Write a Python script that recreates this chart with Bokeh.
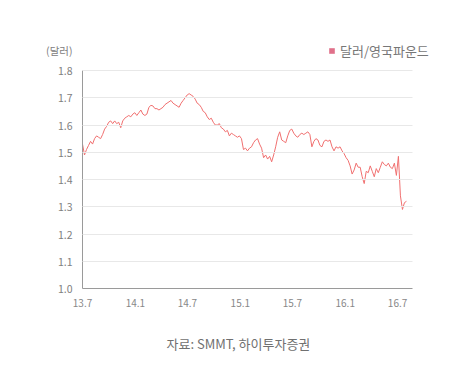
import pandas as pd
from bokeh.plotting import figure
from bokeh.models import (FixedTicker, CustomJSTickFormatter, Range1d,
                          Legend, LegendItem, Title, LinearAxis)
from bokeh.embed import file_html
from bokeh.resources import INLINE

# weekly GBP/USD (달러/영국파운드), starting 2013-07-01
start_date = "2013-07-01"
usd_per_gbp = [
    1.53, 1.49, 1.51, 1.525, 1.54, 1.53, 1.55, 1.56, 1.555, 1.55,
    1.565, 1.585, 1.595, 1.61, 1.615, 1.605, 1.615, 1.605, 1.61, 1.59,
    1.615, 1.625, 1.63, 1.635, 1.63, 1.64, 1.645, 1.635, 1.645, 1.655,
    1.64, 1.635, 1.64, 1.665, 1.672, 1.67, 1.66, 1.66, 1.655, 1.66,
    1.665, 1.675, 1.68, 1.685, 1.69, 1.68, 1.675, 1.67, 1.665, 1.68,
    1.69, 1.70, 1.71, 1.715, 1.71, 1.705, 1.695, 1.68, 1.675, 1.665,
    1.65, 1.645, 1.63, 1.62, 1.625, 1.61, 1.60, 1.60, 1.605, 1.59,
    1.585, 1.575, 1.58, 1.56, 1.57, 1.565, 1.56, 1.555, 1.56, 1.55,
    1.51, 1.515, 1.505, 1.515, 1.52, 1.535, 1.545, 1.55, 1.53, 1.515,
    1.48, 1.49, 1.475, 1.485, 1.465, 1.49, 1.52, 1.555, 1.575, 1.545,
    1.54, 1.535, 1.56, 1.58, 1.585, 1.57, 1.56, 1.555, 1.565, 1.57,
    1.565, 1.57, 1.575, 1.565, 1.52, 1.54, 1.55, 1.545, 1.525, 1.52,
    1.54, 1.545, 1.54, 1.545, 1.52, 1.505, 1.52, 1.515, 1.52, 1.505,
    1.495, 1.48, 1.47, 1.45, 1.42, 1.435, 1.46, 1.445, 1.445, 1.41,
    1.385, 1.43, 1.425, 1.45, 1.43, 1.41, 1.44, 1.425, 1.445, 1.465,
    1.455, 1.45, 1.46, 1.445, 1.44, 1.46, 1.415, 1.485, 1.34, 1.29,
    1.315, 1.32,
]
tick_dates = ["2013-07-01", "2014-01-01", "2014-07-01", "2015-01-01",
              "2015-07-01", "2016-01-01", "2016-07-01"]
y_ticks = [1.0, 1.1, 1.2, 1.3, 1.4, 1.5, 1.6, 1.7, 1.8]
series_name = "달러/영국파운드"
unit_label = "(달러)"
source_text = "자료: SMMT, 하이투자증권"

dates = pd.date_range(start_date, periods=len(usd_per_gbp), freq="7D")


def ms(d):
    return pd.Timestamp(d).value / 1e6


FONT = "Noto Sans CJK KR"

# layout (pixels): axes box 82..412 x 70..288, frame extended to hold the key
W, H = 468, 375
AX_L, AX_R, AX_T, AX_B = 82, 412, 70, 288
FR_R, FR_T = 440, 36
x0, x1 = ms("2013-07-01"), ms("2016-08-22")
y0, y1 = 1.0, 1.8
px_x = (x1 - x0) / (AX_R - AX_L)
px_y = (y1 - y0) / (AX_B - AX_T)
unit_y = y1 + 20 * px_y          # unit label sits 20px above the 1.8 line

p = figure(width=W, height=H, x_axis_type="datetime", y_axis_location=None,
           output_backend="svg", toolbar_location=None,
           min_border_left=AX_L, min_border_right=W - FR_R,
           min_border_top=FR_T, min_border_bottom=H - AX_B)
p.x_range = Range1d(x0, x0 + (FR_R - AX_L) * px_x)
p.y_range = Range1d(y0, y1 + (AX_T - FR_T) * px_y)
p.outline_line_color = None
p.background_fill_color = "white"
p.border_fill_color = "white"
p.xgrid.visible = False
p.ygrid.visible = False

line_r = p.line(dates, usd_per_gbp, line_color="#f07070", line_width=1)
# zero-area patch used only as the legend swatch
swatch = p.quad(left=dates[:1], right=dates[:1],
                top=usd_per_gbp[:1], bottom=usd_per_gbp[:1],
                fill_color="#e0708a", line_color=None)

# x axis
xa = p.xaxis[0]
xa.ticker = FixedTicker(ticks=[ms(d) for d in tick_dates])
xa.formatter = CustomJSTickFormatter(
    code="const d = new Date(tick); return (d.getUTCFullYear() % 100) + '.' + (d.getUTCMonth() + 1);")
xa.bounds = (x0, x1)
xa.axis_line_color = "#9a9a9a"
xa.major_tick_line_color = None
xa.minor_tick_line_color = None
xa.major_tick_in = 0
xa.major_tick_out = 0
xa.major_label_text_color = "#888888"
xa.major_label_text_font = FONT
xa.major_label_text_font_size = "10px"
xa.major_label_standoff = 10

# inner y axis: the axis line, with long inward ticks acting as grid lines
ya = LinearAxis(ticker=FixedTicker(ticks=y_ticks[1:]), bounds=(y0, y1),
                formatter=CustomJSTickFormatter(code="return '';"),
                axis_line_color="#9a9a9a", major_tick_line_color="#e8e8e8",
                major_tick_in=AX_R - AX_L, major_tick_out=0,
                minor_tick_line_color=None, major_label_standoff=0,
                major_label_text_font_size="1px")
p.add_layout(ya, "left")

# outer y axis: the tick labels plus the unit label above them
yl = LinearAxis(ticker=FixedTicker(ticks=y_ticks + [unit_y]), bounds=(y0, unit_y),
                formatter=CustomJSTickFormatter(
                    args=dict(unit=unit_label, top=y1),
                    code="return tick > top + 0.01 ? unit : tick.toFixed(1);"),
                axis_line_color=None, major_tick_line_color=None,
                minor_tick_line_color=None, major_tick_in=0, major_tick_out=0,
                major_label_standoff=10, major_label_text_color="#808080",
                major_label_text_font=FONT, major_label_text_font_size="10.5px")
p.add_layout(yl, "left")

legend = Legend(items=[LegendItem(label=series_name, renderers=[swatch])],
                label_text_font=FONT, label_text_font_size="13px",
                label_text_color="#777777", label_standoff=5,
                glyph_width=7, glyph_height=7, label_height=14,
                padding=0, margin=0, spacing=0,
                border_line_color=None, background_fill_color=None,
                location=(328 - AX_L, AX_B - 46 - 14), orientation="horizontal")
p.add_layout(legend, "center")

source = Title(text=source_text, align="left", offset=84,
               text_font=FONT, text_font_size="13px", text_color="#707070",
               text_font_style="normal", standoff=44)
p.add_layout(source, "below")

open("out.html", "w").write(file_html(p, INLINE))
